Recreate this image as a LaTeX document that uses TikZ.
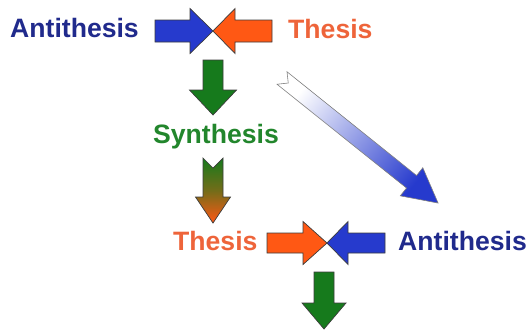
\documentclass[tikz,border=0pt]{standalone}
\usepackage{fontspec}
\setmainfont{Liberation Sans}
\usepackage{tikz}
\usetikzlibrary{positioning}
\definecolor{dlBlue}{RGB}{38,58,205}
\definecolor{dlOrange}{RGB}{255,88,20}
\definecolor{dlGreen}{RGB}{22,122,28}
\definecolor{dlNavy}{RGB}{32,42,140}
\definecolor{dlCoral}{RGB}{238,100,58}
\definecolor{dlLeaf}{RGB}{34,134,44}
\definecolor{dlEdge}{RGB}{60,60,60}

\begin{document}
\begin{tikzpicture}[
  x=1pt, y=-1pt,
  word/.style={inner sep=0pt, anchor=base west, font=\fontsize{26.6}{30}\selectfont\bfseries},
  blk/.style={draw=dlEdge, line width=0.7pt, line join=miter},
  blkblue/.style={blk, fill=dlBlue},
  blkorange/.style={blk, fill=dlOrange},
  blkgreen/.style={blk, fill=dlGreen}
]
\useasboundingbox (0,0) rectangle (529,333);
% the words
\node[word, text=dlNavy] (anti1) at (10,37) {Antithesis};
\node[word, text=dlCoral] (thes1) at (288,38) {Thesis};
\node[word, text=dlLeaf] (synth) at (153,143) {Synthesis};
\node[word, text=dlCoral] (thes2) at (173,250) {Thesis};
\node[word, text=dlNavy] (anti2) at (398,250) {Antithesis};
% first clash
\draw[blkblue] (155,20) -- (190,20) -- (190,8.5) -- (213,31) -- (190,53.5) -- (190,42) -- (155,42) -- cycle;
\draw[blkorange] (272,20) -- (235,20) -- (235,8.5) -- (213,31) -- (235,53.5) -- (235,42) -- (272,42) -- cycle;
\draw[blkgreen] (203,60) -- (223,60) -- (223,90) -- (236.5,90) -- (213,115) -- (189.5,90) -- (203,90) -- cycle;
% synthesis becomes the new thesis
\shadedraw[blk, top color=dlGreen, bottom color=dlOrange, middle color=dlGreen!60!dlOrange] (203,158) -- (213,168) -- (223,158) -- (223,197) -- (230.5,197) -- (213,223) -- (195.5,197) -- (203,197) -- cycle;
\begin{scope}[shift={(282,78)}, rotate=-38.7]
  \shadedraw[draw=gray, line width=0.6pt, top color=white, bottom color=dlBlue, shading angle=51]
    (0,-8) -- (166,-8) -- (166,-18) -- (200,0) -- (166,18) -- (166,8) -- (0,8) -- (8,0) -- cycle;
\end{scope}
% second clash
\draw[blkorange] (267,233) -- (303,233) -- (303,221.5) -- (327,243) -- (303,264.5) -- (303,253) -- (267,253) -- cycle;
\draw[blkblue] (385,233) -- (348,233) -- (348,221.5) -- (327,243) -- (348,264.5) -- (348,253) -- (385,253) -- cycle;
\draw[blkgreen] (314,272) -- (334,272) -- (334,303) -- (346,303) -- (324,329) -- (302,303) -- (314,303) -- cycle;
\end{tikzpicture}
\end{document}
